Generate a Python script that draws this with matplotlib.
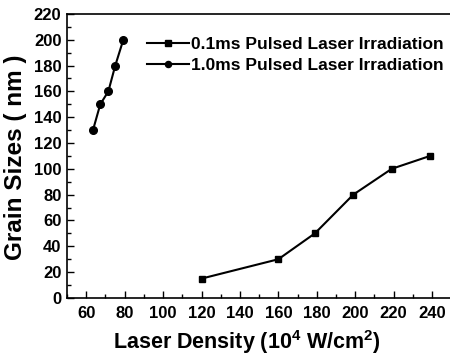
import matplotlib
matplotlib.use("Agg")
import matplotlib.pyplot as plt
from matplotlib.ticker import MultipleLocator

# laser density (10^4 W/cm^2) vs grain size (nm)
density_01ms = [120, 160, 179, 199, 219, 239]
grain_01ms = [15, 30, 50, 80, 100, 110]
density_10ms = [63.5, 67.3, 71.5, 75.1, 79.3]
grain_10ms = [130, 150, 160, 180, 200]

plt.rcParams["font.family"] = ["Liberation Sans", "DejaVu Sans"]
plt.rcParams["font.weight"] = "bold"
plt.rcParams["mathtext.fontset"] = "custom"
plt.rcParams["mathtext.rm"] = "Liberation Sans"

fig = plt.figure(figsize=(4.5, 3.56), dpi=100)
ax = fig.add_axes([0.149, 0.163, 0.858, 0.798])

ax.plot(density_01ms, grain_01ms, "k-", marker="s", ms=5, lw=1.5,
        label="0.1ms Pulsed Laser Irradiation")
ax.plot(density_10ms, grain_10ms, "k-", marker="o", ms=5.5, lw=1.5,
        label="1.0ms Pulsed Laser Irradiation")

ax.set_xlim(50, 251)
ax.set_ylim(0, 220)
ax.xaxis.set_major_locator(MultipleLocator(20))
ax.xaxis.set_minor_locator(MultipleLocator(10))
ax.yaxis.set_major_locator(MultipleLocator(20))
ax.yaxis.set_minor_locator(MultipleLocator(10))
ax.tick_params(which="both", direction="in", labelsize=12, width=1)
ax.tick_params(which="major", length=5, pad=4)
ax.tick_params(axis="x", which="major", pad=5.5)
ax.tick_params(which="minor", length=3)
for s in ax.spines.values():
    s.set_linewidth(1.2)

ax.set_xticks(range(60, 241, 20))
ax.set_xlabel(r"Laser Density (10$^{\rm 4}$ W/cm$^{\rm 2}$)", fontsize=15.5,
              fontweight="bold")
ax.set_ylabel("Grain Sizes ( nm )", fontsize=17.5, fontweight="bold")
ax.xaxis.set_label_coords(0.466, -0.105)
ax.yaxis.set_label_coords(-0.103, 0.495)

ax.legend(loc="upper left", bbox_to_anchor=(0.19, 0.942), frameon=False,
          fontsize=12.5, handlelength=2.4, handletextpad=0.1, labelspacing=0.3,
          borderaxespad=0, markerscale=0.8)

fig.savefig("out.png", dpi=100)
